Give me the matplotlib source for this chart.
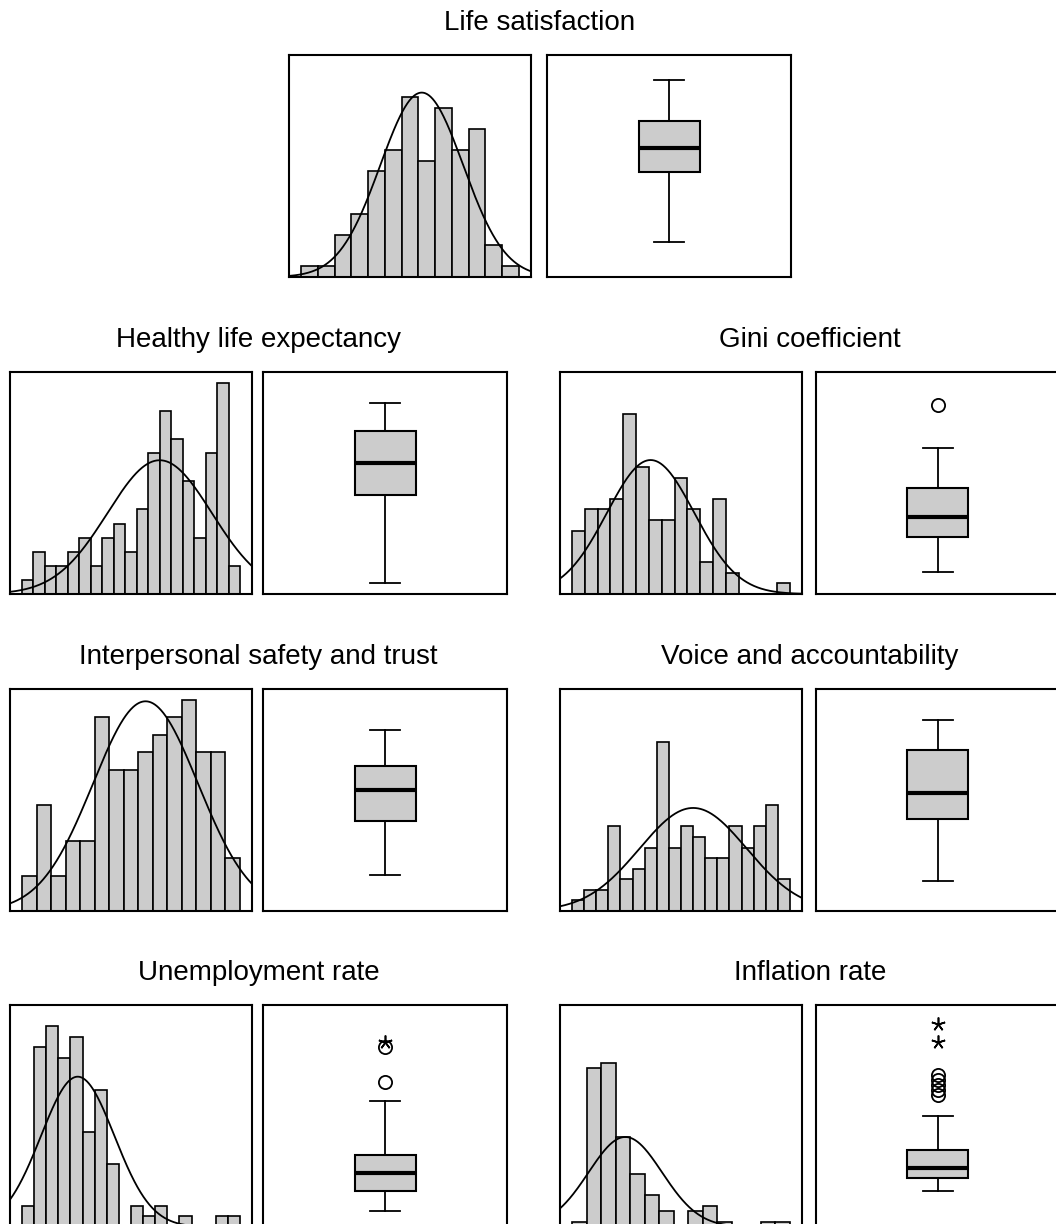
import numpy as np
import matplotlib.pyplot as plt

W, H = 1056, 1224

titles = ['Life satisfaction', 'Healthy life expectancy', 'Gini coefficient',
          'Interpersonal safety and trust', 'Voice and accountability',
          'Unemployment rate', 'Inflation rate']

# histogram counts, one entry per (equal width) bin
life_sat_counts = [1, 1, 4, 6, 10, 12, 17, 11, 16, 12, 14, 3, 1]
life_exp_counts = [1, 3, 2, 2, 3, 4, 2, 4, 5, 3, 6, 10, 13, 11, 8, 4, 10, 15, 2]
gini_counts = [6, 8, 8, 9, 17, 12, 7, 7, 11, 8, 3, 9, 2, 0, 0, 0, 1]
trust_counts = [2, 6, 2, 4, 4, 11, 8, 8, 9, 10, 11, 12, 9, 9, 3]
voice_counts = [1, 2, 2, 8, 3, 4, 6, 16, 6, 8, 7, 5, 5, 8, 6, 8, 10, 3]
unemp_counts = [2, 17, 19, 16, 18, 9, 13, 6, 0, 2, 1, 2, 0, 1, 0, 0, 1, 1]
infl_counts = [1, 30, 31, 17, 10, 6, 3, 0, 3, 4, 1, 0, 0, 1, 1]
hist_counts = [life_sat_counts, life_exp_counts, gini_counts, trust_counts,
               voice_counts, unemp_counts, infl_counts]

# nice maximum of each count axis
hist_ymax = [20, 15, 20, 12, 20, 20, 40]

# fitted normal curve, mean and sd in bin units
curve_mean = [7.2, 12.0, 6.13, 8.5, 10.0, 4.6, 3.67]
curve_sd = [2.47, 4.54, 3.40, 3.62, 4.42, 3.03, 2.53]

# boxplot stats on a 0-100 scale of the boxplot panel
box_whislo = [15.7, 5.1, 10.1, 16.1, 13.6, 7.3, 16.2]
box_q1 = [47.1, 44.4, 25.7, 40.4, 41.3, 16.2, 22.1]
box_med = [58.2, 59.2, 34.7, 54.3, 53.0, 24.2, 26.4]
box_q3 = [70.2, 73.6, 47.7, 65.5, 72.6, 32.6, 34.8]
box_whishi = [88.7, 86.1, 65.9, 81.6, 86.1, 56.7, 50.0]
box_outliers = [[], [], [85.2], [], [], [81.0, 65.2], [68.5, 66.2, 64.0, 61.7, 59.5]]
box_extremes = [[], [], [], [], [], [83.5], [91.4, 83.5]]

# panel layout in pixels: hist left, box left, top
layout = [(289, 547, 55), (10, 263, 372), (560, 816, 372), (10, 263, 689),
          (560, 816, 689), (10, 263, 1005), (560, 816, 1005)]
hist_w, box_w, panel_h = 242, 244, 222

fig = plt.figure(figsize=(W / 100, H / 100), dpi=100)


def px_axes(left, top, w, h):
    ax = fig.add_axes([left / W, 1 - (top + h) / H, w / W, h / H])
    for s in ax.spines.values():
        s.set_linewidth(1.5)
    return ax


for i in range(len(titles)):
    hl, bl, top = layout[i]
    counts = hist_counts[i]
    nb = len(counts)
    pad = 0.055 * nb

    fig.text((hl + bl + box_w) / 2 / W, 1 - (top - 25) / H, titles[i],
             ha='center', va='baseline', fontsize=20, family='Liberation Sans')

    ax = px_axes(hl, top, hist_w, panel_h)
    ax.bar(np.arange(nb), counts, width=1, align='edge', color='#cccccc',
           edgecolor='black', linewidth=1.2)
    xs = np.linspace(-pad, nb + pad, 400)
    n = sum(counts)
    ys = n / (curve_sd[i] * np.sqrt(2 * np.pi)) * np.exp(-0.5 * ((xs - curve_mean[i]) / curve_sd[i]) ** 2)
    ax.plot(xs, ys, color='black', lw=1.3)
    ax.set_xlim(-pad, nb + pad)
    ax.set_ylim(0, hist_ymax[i] * 1.05)
    ax.set_xticks([])
    ax.set_yticks([])

    bx = px_axes(bl, top, box_w, panel_h)
    stats = {'whislo': box_whislo[i], 'q1': box_q1[i], 'med': box_med[i],
             'q3': box_q3[i], 'whishi': box_whishi[i], 'fliers': box_outliers[i]}
    bx.bxp([stats], positions=[0.5], widths=0.25, capwidths=0.122, patch_artist=True,
           manage_ticks=False,
           boxprops=dict(facecolor='#cccccc', edgecolor='black', linewidth=1.5),
           medianprops=dict(color='black', linewidth=3),
           whiskerprops=dict(color='black', linewidth=1.3),
           capprops=dict(color='black', linewidth=1.3),
           flierprops=dict(marker='o', markerfacecolor='none', markeredgecolor='black',
                           markersize=9.5, markeredgewidth=1.3))
    if box_extremes[i]:
        bx.plot([0.5] * len(box_extremes[i]), box_extremes[i], ls='none',
                marker=(5, 2, 0), markersize=10, color='black', markeredgewidth=1.2)
    bx.set_xlim(0, 1)
    bx.set_ylim(0, 100)
    bx.set_xticks([])
    bx.set_yticks([])

fig.savefig('out.png', dpi=100)
